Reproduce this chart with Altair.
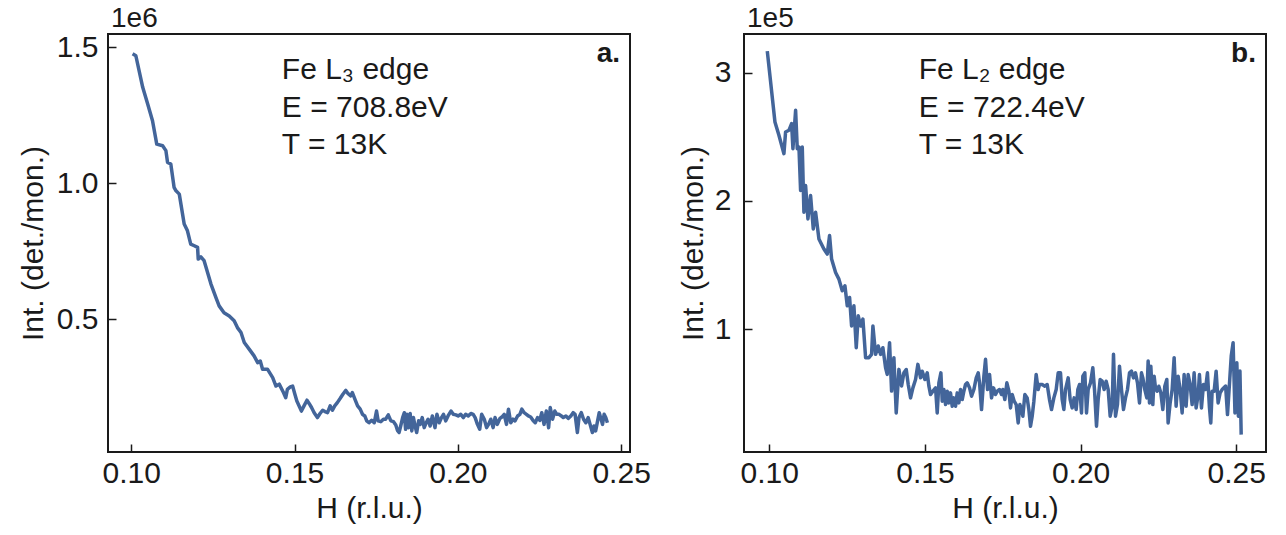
import altair as alt
import pandas as pd

# ---------------- data ----------------
# Panel a: Fe L3 edge, intensity in units of 1e6
scan_a = [
    (0.1004, 1.476), (0.1014, 1.469), (0.1035, 1.353), (0.1050, 1.292), (0.1065, 1.230),
    (0.1078, 1.144), (0.1096, 1.138), (0.1106, 1.120), (0.1111, 1.077), (0.1121, 1.071),
    (0.1131, 0.985), (0.1137, 0.972), (0.1147, 0.960), (0.1162, 0.850), (0.1172, 0.825),
    (0.1182, 0.776), (0.1193, 0.770), (0.1203, 0.764), (0.1205, 0.721), (0.1213, 0.729),
    (0.1223, 0.715), (0.1244, 0.629), (0.1259, 0.580), (0.1269, 0.549), (0.1284, 0.524),
    (0.1300, 0.512), (0.1315, 0.494), (0.1325, 0.469), (0.1336, 0.451), (0.1346, 0.414),
    (0.1361, 0.390), (0.1376, 0.365), (0.1387, 0.340), (0.1395, 0.346), (0.1402, 0.316),
    (0.1417, 0.316), (0.1433, 0.285), (0.1443, 0.254), (0.1453, 0.261),
    (0.1466, 0.230), (0.1473, 0.211), (0.1478, 0.242), (0.1487, 0.251), (0.1494, 0.254),
    (0.1501, 0.224), (0.1507, 0.199), (0.1514, 0.181), (0.1521, 0.162), (0.1529, 0.181),
    (0.1538, 0.202), (0.1545, 0.189), (0.1552, 0.175), (0.1560, 0.156), (0.1570, 0.138),
    (0.1578, 0.153), (0.1586, 0.165), (0.1593, 0.160), (0.1601, 0.156), (0.1609, 0.181),
    (0.1616, 0.165), (0.1623, 0.181), (0.1631, 0.193), (0.1640, 0.209), (0.1648, 0.224),
    (0.1657, 0.238), (0.1664, 0.226), (0.1672, 0.218), (0.1677, 0.230), (0.1685, 0.205),
    (0.1693, 0.181), (0.1701, 0.169), (0.1708, 0.150), (0.1715, 0.144), (0.1721, 0.126),
    (0.1728, 0.119), (0.1736, 0.128), (0.1744, 0.119), (0.1751, 0.162), (0.1756, 0.126),
    (0.1764, 0.123), (0.1772, 0.132), (0.1779, 0.132), (0.1787, 0.148), (0.1795, 0.126),
    (0.1803, 0.123), (0.1810, 0.111), (0.1815, 0.091), (0.1820, 0.083), (0.1825, 0.107),
    (0.1831, 0.138), (0.1836, 0.156), (0.1840, 0.095), (0.1844, 0.150), (0.1849, 0.101),
    (0.1854, 0.153), (0.1859, 0.089), (0.1864, 0.138), (0.1869, 0.107), (0.1874, 0.083),
    (0.1880, 0.126), (0.1885, 0.113), (0.1891, 0.138), (0.1897, 0.101), (0.1903, 0.119),
    (0.1909, 0.132), (0.1915, 0.107), (0.1922, 0.144), (0.1930, 0.101), (0.1936, 0.150),
    (0.1943, 0.119), (0.1950, 0.138), (0.1956, 0.150), (0.1963, 0.126), (0.1970, 0.144),
    (0.1979, 0.162), (0.1986, 0.150), (0.1994, 0.148), (0.2001, 0.144), (0.2009, 0.150),
    (0.2017, 0.138), (0.2024, 0.150), (0.2032, 0.144), (0.2040, 0.153), (0.2047, 0.150),
    (0.2053, 0.138), (0.2060, 0.113), (0.2067, 0.095), (0.2073, 0.150), (0.2081, 0.132),
    (0.2088, 0.101), (0.2094, 0.113), (0.2101, 0.132), (0.2108, 0.101), (0.2114, 0.138),
    (0.2121, 0.113), (0.2129, 0.135), (0.2135, 0.140), (0.2142, 0.150), (0.2149, 0.113),
    (0.2155, 0.169), (0.2162, 0.119), (0.2169, 0.132), (0.2175, 0.126), (0.2183, 0.144),
    (0.2190, 0.150), (0.2196, 0.169), (0.2203, 0.156), (0.2210, 0.150), (0.2216, 0.144),
    (0.2223, 0.140), (0.2231, 0.126), (0.2237, 0.119), (0.2244, 0.138), (0.2251, 0.128),
    (0.2257, 0.156), (0.2264, 0.113), (0.2271, 0.162), (0.2278, 0.101), (0.2283, 0.175),
    (0.2290, 0.132), (0.2297, 0.162), (0.2303, 0.150), (0.2310, 0.150), (0.2317, 0.144),
    (0.2323, 0.138), (0.2331, 0.144), (0.2338, 0.135), (0.2346, 0.144), (0.2353, 0.156),
    (0.2359, 0.150), (0.2366, 0.083), (0.2371, 0.138), (0.2378, 0.156), (0.2385, 0.132),
    (0.2392, 0.119), (0.2399, 0.138), (0.2405, 0.113), (0.2412, 0.083), (0.2417, 0.107),
    (0.2422, 0.089), (0.2428, 0.126), (0.2433, 0.156), (0.2443, 0.113), (0.2448, 0.150),
    (0.2453, 0.138), (0.2458, 0.119),
]

# Panel b: Fe L2 edge, intensity in units of 1e5
scan_b = [
    (0.09936, 3.167), (0.10182, 2.615), (0.10310, 2.511), (0.10471, 2.368), (0.10524, 2.537),
    (0.10631, 2.550), (0.10717, 2.602), (0.10760, 2.407), (0.10846, 2.706), (0.10899, 2.407),
    (0.10953, 2.420), (0.11006, 2.081), (0.11060, 2.420), (0.11113, 1.912), (0.11167, 2.120),
    (0.11242, 1.860), (0.11327, 2.042), (0.11413, 1.782), (0.11488, 1.912), (0.11595, 1.704),
    (0.11755, 1.625), (0.11862, 1.586), (0.11937, 1.730), (0.12002, 1.547), (0.12130, 1.443),
    (0.12237, 1.391), (0.12344, 1.300), (0.12430, 1.339), (0.12505, 1.183), (0.12580, 1.248),
    (0.12644, 1.026), (0.12719, 1.183), (0.12794, 0.857), (0.12858, 1.105), (0.12933, 1.026),
    (0.13008, 1.079), (0.13094, 0.779), (0.13201, 0.779), (0.13286, 0.805), (0.13329, 1.026),
    (0.13415, 0.805), (0.13500, 0.870), (0.13575, 0.805), (0.13650, 0.857), (0.13736, 0.701),
    (0.13789, 0.649), (0.13864, 0.896), (0.13929, 0.519), (0.14003, 0.779), (0.14078, 0.349),
    (0.14164, 0.688), (0.14250, 0.558),
    (0.14325, 0.661), (0.14400, 0.687), (0.14464, 0.570), (0.14539, 0.466), (0.14614, 0.544),
    (0.14699, 0.609), (0.14774, 0.727), (0.14860, 0.622), (0.14914, 0.674), (0.14999, 0.609),
    (0.15074, 0.661), (0.15128, 0.557), (0.15181, 0.492), (0.15256, 0.518), (0.15342, 0.544),
    (0.15395, 0.349), (0.15449, 0.583), (0.15513, 0.661), (0.15556, 0.440), (0.15609, 0.531),
    (0.15663, 0.414), (0.15716, 0.518), (0.15770, 0.427), (0.15823, 0.505), (0.15877, 0.401),
    (0.15930, 0.466), (0.15984, 0.401), (0.16037, 0.505), (0.16091, 0.427), (0.16144, 0.531),
    (0.16198, 0.453), (0.16251, 0.518), (0.16305, 0.570), (0.16359, 0.583), (0.16434, 0.544),
    (0.16498, 0.479), (0.16573, 0.531), (0.16648, 0.622), (0.16712, 0.661), (0.16755, 0.583),
    (0.16819, 0.375), (0.16894, 0.635), (0.16947, 0.766), (0.17012, 0.531), (0.17076, 0.648),
    (0.17140, 0.466), (0.17204, 0.544), (0.17268, 0.492), (0.17322, 0.518), (0.17397, 0.531),
    (0.17461, 0.492), (0.17504, 0.531), (0.17568, 0.453), (0.17632, 0.583), (0.17697, 0.518),
    (0.17750, 0.388), (0.17804, 0.492), (0.17868, 0.440), (0.17932, 0.414), (0.17996, 0.271),
    (0.18050, 0.414), (0.18103, 0.375), (0.18146, 0.323), (0.18210, 0.492), (0.18285, 0.466),
    (0.18339, 0.375), (0.18392, 0.245), (0.18446, 0.323), (0.18500, 0.440), (0.18574, 0.648),
    (0.18638, 0.531), (0.18681, 0.570),
    (0.18767, 0.570), (0.18853, 0.557), (0.18928, 0.570), (0.19002, 0.453), (0.19067, 0.375),
    (0.19142, 0.466), (0.19217, 0.531), (0.19281, 0.661), (0.19356, 0.661), (0.19409, 0.453),
    (0.19463, 0.375), (0.19516, 0.531), (0.19602, 0.622), (0.19666, 0.453), (0.19730, 0.388),
    (0.19795, 0.466), (0.19859, 0.375), (0.19912, 0.531), (0.19966, 0.570), (0.20030, 0.349),
    (0.20073, 0.635), (0.20137, 0.661), (0.20191, 0.349), (0.20244, 0.531), (0.20319, 0.583),
    (0.20394, 0.700), (0.20448, 0.531), (0.20512, 0.245), (0.20565, 0.453), (0.20630, 0.609),
    (0.20694, 0.596), (0.20758, 0.531), (0.20822, 0.596), (0.20887, 0.531), (0.20951, 0.323),
    (0.21015, 0.401), (0.21058, 0.805), (0.21122, 0.323), (0.21186, 0.414), (0.21250, 0.713),
    (0.21315, 0.531), (0.21379, 0.375), (0.21443, 0.466), (0.21507, 0.531), (0.21572, 0.661),
    (0.21636, 0.674), (0.21700, 0.622), (0.21764, 0.661), (0.21828, 0.583), (0.21893, 0.427),
    (0.21957, 0.661), (0.22000, 0.622), (0.22064, 0.531), (0.22128, 0.466), (0.22171, 0.753),
    (0.22214, 0.427), (0.22257, 0.713), (0.22321, 0.414), (0.22364, 0.635), (0.22407, 0.544),
    (0.22460, 0.518), (0.22514, 0.557), (0.22578, 0.505), (0.22642, 0.375), (0.22706, 0.557),
    (0.22771, 0.609), (0.22813, 0.271), (0.22878, 0.427), (0.22942, 0.531), (0.23006, 0.779),
    (0.23070, 0.401), (0.23135, 0.635), (0.23199, 0.531), (0.23263, 0.349), (0.23327, 0.648),
    (0.23391, 0.401), (0.23456, 0.648), (0.23520, 0.570), (0.23584, 0.414), (0.23648, 0.661),
    (0.23712, 0.388), (0.23777, 0.492), (0.23819, 0.648), (0.23884, 0.388), (0.23948, 0.570),
    (0.24012, 0.531), (0.24076, 0.661), (0.24141, 0.388), (0.24183, 0.271), (0.24226, 0.518),
    (0.24291, 0.518), (0.24355, 0.674), (0.24419, 0.427), (0.24483, 0.505), (0.24547, 0.531),
    (0.2466, 0.558), (0.2472, 0.336), (0.2484, 0.792), (0.2490, 0.896), (0.2496, 0.349),
    (0.2502, 0.740), (0.2507, 0.323), (0.2512, 0.675), (0.2516, 0.180),
]

x_ticks = [0.10, 0.15, 0.20, 0.25]
y_ticks_a = [0.5, 1.0, 1.5]
y_ticks_b = [1, 2, 3]

notes_a = ["Fe L\u2083 edge", "E = 708.8eV", "T = 13K"]
notes_a_y = [1.384, 1.243, 1.107]
notes_b = ["Fe L\u2082 edge", "E = 722.4eV", "T = 13K"]
notes_b_y = [2.953, 2.654, 2.367]

FONT = "Liberation Sans, Arial, Helvetica, sans-serif"
LINE = "#43659a"
INK = "#1a1a1a"
FS = 30


def panel(scan, xdom, ydom, yticks, yfmt, notes, notes_x, notes_y, tag, exp,
          lab_pad, title_pad, w, h):
    df = pd.DataFrame(scan, columns=["H", "I"])
    xs = alt.Scale(domain=xdom, nice=False, zero=False)
    ys = alt.Scale(domain=ydom, nice=False, zero=False)
    xax = alt.Axis(values=x_ticks, format=".2f", title="H (r.l.u.)", grid=False,
                   domain=False, tickSize=8, tickWidth=1.5, tickColor=INK, offset=-8,
                   labelPadding=6, labelFont=FONT, labelFontSize=FS, labelColor=INK,
                   labelFlush=False, labelOverlap=False,
                   titleFont=FONT, titleFontSize=FS, titleFontWeight="normal",
                   titleColor=INK, titlePadding=5)
    yax = alt.Axis(values=yticks, format=yfmt, title="Int. (det./mon.)", grid=False,
                   domain=False, tickSize=8, tickWidth=1.5, tickColor=INK, offset=-8,
                   labelPadding=lab_pad, labelFont=FONT, labelFontSize=FS, labelColor=INK,
                   labelFlush=False, labelOverlap=False,
                   titleFont=FONT, titleFontSize=FS, titleFontWeight="normal",
                   titleColor=INK, titlePadding=title_pad)
    line = alt.Chart(df).mark_line(color=LINE, strokeWidth=3.5, clip=True,
                                   strokeJoin="round").encode(
        x=alt.X("H:Q", scale=xs, axis=xax),
        y=alt.Y("I:Q", scale=ys, axis=yax),
    )
    ndf = pd.DataFrame({"t": notes, "H": [notes_x] * len(notes), "I": notes_y})
    txt = alt.Chart(ndf).mark_text(align="left", baseline="alphabetic", font=FONT,
                                   fontSize=FS, color=INK).encode(
        x=alt.X("H:Q", scale=xs), y=alt.Y("I:Q", scale=ys), text="t:N")
    tagm = alt.Chart(pd.DataFrame({"t": [tag]})).mark_text(
        align="right", baseline="alphabetic", font=FONT, fontSize=28,
        fontWeight="bold", color=INK).encode(
        x=alt.value(w - 10), y=alt.value(28), text="t:N")
    expm = alt.Chart(pd.DataFrame({"t": [exp]})).mark_text(
        align="left", baseline="alphabetic", font=FONT, fontSize=28, color=INK).encode(
        x=alt.value(3), y=alt.value(-7), text="t:N")
    return alt.layer(line, txt, tagm, expm).properties(width=w, height=h)


pa = panel(scan_a, [0.09287, 0.25272], [0.0114, 1.549], y_ticks_a, ".1f",
           notes_a, 0.1461, notes_a_y, "a.", "1e6", 10, 8, 522, 418)
pb = panel(scan_b, [0.09188, 0.25957], [0.0445, 3.30], y_ticks_b, "d",
           notes_b, 0.1480, notes_b_y, "b.", "1e5", 13, 6, 522, 418)

chart = alt.hconcat(pa, pb, spacing=25).properties(
    padding={"left": 17, "top": 4, "right": 0, "bottom": 0},
    background="white",
).configure_view(stroke=INK, strokeWidth=2)

chart.save("out.html", embed_options={"renderer": "svg", "actions": False})
